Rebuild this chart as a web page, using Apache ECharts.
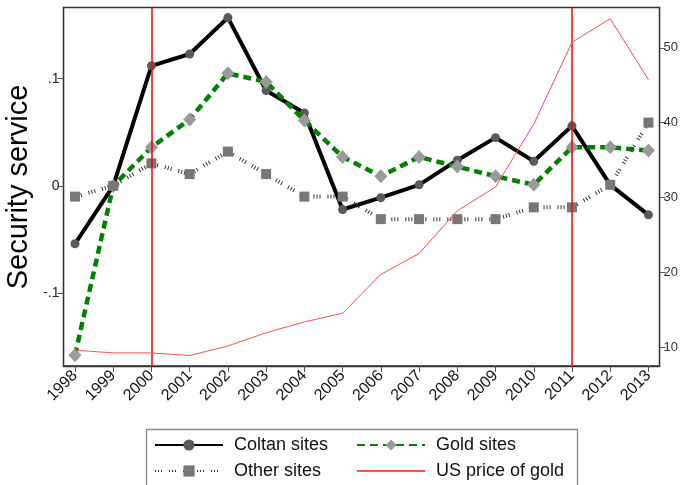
<!DOCTYPE html>
<html>
<head>
<meta charset="utf-8">
<script src="https://cdn.jsdelivr.net/npm/echarts@6/dist/echarts.min.js"></script>
<style>
html,body{margin:0;padding:0;background:#fff;}
#chart{width:681px;height:485px;}
</style>
</head>
<body>
<div id="chart"></div>
<script>
const years = [1998,1999,2000,2001,2002,2003,2004,2005,2006,2007,2008,2009,2010,2011,2012,2013];
const coltanSites = [-0.054,0.000,0.112,0.123,0.157,0.089,0.068,-0.022,-0.011,0.001,0.024,0.045,0.023,0.056,0.001,-0.027];
const goldSites = [-0.158,0.000,0.036,0.062,0.105,0.097,0.061,0.027,0.009,0.027,0.018,0.009,0.001,0.036,0.036,0.033];
const otherSites = [-0.010,0.000,0.021,0.011,0.032,0.011,-0.010,-0.010,-0.031,-0.031,-0.031,-0.031,-0.020,-0.020,0.001,0.059];
const usGoldPrice = [9.56,9.2,9.2,8.85,10.13,11.9,13.35,14.5,19.7,22.5,28.2,31.4,39.8,50.75,53.9,45.75];
const leftTicks = [-0.1,0,0.1];
const leftTickLabels = ['-.1','0','.1'];
const rightTicks = [10,20,30,40,50];
const eventYears = [2000,2011];

const pair = arr => years.map((y,i)=>[y,arr[i]]);
const font = 'Liberation Sans, Arial, sans-serif';

const chart = echarts.init(document.getElementById('chart'), null, {renderer:'canvas'});
const legendText = {fontFamily:font,fontSize:18,color:'#111',padding:[0,0,0,6]};
function mkLegend(item, left, top){
  return {data:[item], left:left, top:top, orient:'horizontal', itemWidth:68, itemHeight:14, padding:0,
    textStyle:legendText, selectedMode:false};
}
chart.setOption({
  animation:false,
  backgroundColor:'#fff',
  grid:{left:63.5,top:7.5,right:18.5,bottom:119,show:true,borderColor:'#333',borderWidth:1.3,containLabel:false},
  legend:[
    mkLegend('Coltan sites',154,436),
    mkLegend('Gold sites',356,436),
    mkLegend('Other sites',154,462),
    mkLegend({name:'US price of gold',itemStyle:{opacity:0}},356,462)
  ],
  xAxis:{type:'value',min:1997.7,max:2013.29,
    axisLine:{show:true,onZero:false,lineStyle:{color:'#333',width:1.3}},
    axisTick:{show:true,length:6,customValues:years,lineStyle:{color:'#555',width:1}},
    axisLabel:{customValues:years,rotate:45,fontFamily:font,fontSize:16,color:'#111',margin:7,formatter:v=>String(v)},
    splitLine:{show:false}},
  yAxis:[
    {type:'value',min:-0.168,max:0.1664,position:'left',
      axisLine:{show:true,lineStyle:{color:'#333',width:1.3}},
      axisTick:{show:true,length:6,customValues:leftTicks,lineStyle:{color:'#555'}},
      axisLabel:{customValues:leftTicks,fontFamily:font,fontSize:14,color:'#222',margin:4,
        formatter:v=>{const i=leftTicks.findIndex(t=>Math.abs(t-v)<1e-9);return i>=0?leftTickLabels[i]:'';}},
      splitLine:{show:false}},
    {type:'value',min:7.45,max:55.4,position:'right',
      axisLine:{show:true,lineStyle:{color:'#333',width:1.3}},
      axisTick:{show:true,length:6,customValues:rightTicks,lineStyle:{color:'#555'}},
      axisLabel:{customValues:rightTicks,fontFamily:font,fontSize:13,color:'#333',margin:4},
      splitLine:{show:false}}
  ],
  graphic:[
    {type:'text',x:19,y:187,rotation:Math.PI/2,
      style:{text:'Security service',fontFamily:font,fontSize:29,fill:'#000',align:'center',verticalAlign:'middle'}},
    {type:'rect',shape:{x:146.5,y:429.5,width:431,height:70},style:{fill:'none',stroke:'#888',lineWidth:1.3},z:-1}
  ],
  series:[
    {name:'Coltan sites',type:'line',data:pair(coltanSites),yAxisIndex:0,
      symbol:'circle',symbolSize:9,
      lineStyle:{color:'#000',width:4},itemStyle:{color:'#5a5a5a',borderWidth:0},
      markLine:{silent:true,symbol:'none',label:{show:false},
        lineStyle:{color:'#ff0000',width:1.5,type:'solid'},
        data:eventYears.map(y=>({xAxis:y}))},
      z:2},
    {name:'Gold sites',type:'line',data:pair(goldSites),yAxisIndex:0,
      symbol:'diamond',symbolSize:[13,14],
      lineStyle:{color:'#008000',width:4.5,type:[8,5]},itemStyle:{color:'#9a9a9a',borderWidth:0},z:3},
    {name:'Other sites',type:'line',data:pair(otherSites),yAxisIndex:0,
      symbol:'rect',symbolSize:10,
      lineStyle:{color:'#333',width:4,type:[1,2,1,2,1,7]},itemStyle:{color:'#777',borderWidth:0},z:4},
    {name:'US price of gold',type:'line',data:pair(usGoldPrice),yAxisIndex:1,
      symbol:'none',
      lineStyle:{color:'#ff5050',width:1},itemStyle:{color:'#ff5050'},z:5}
  ]
});
</script>
</body>
</html>
